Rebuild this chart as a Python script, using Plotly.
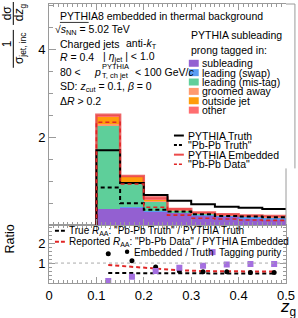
import plotly.graph_objects as go

# ---------------- data ----------------
bin_edges = [0.10, 0.15, 0.20, 0.25, 0.30, 0.35, 0.40, 0.45, 0.50]
bin_centers = [0.125, 0.175, 0.225, 0.275, 0.325, 0.375, 0.425, 0.475]

stack_names = ["subleading", "leading (swap)", "leading (mis-tag)",
               "groomed away", "outside jet", "other"]
stack_colors = ["#9361d2", "#5b9df2", "#5fcf9b", "#ff9a6e", "#ff9d0a", "#ff6e70"]
subleading   = [0.37, 0.40, 0.32, 0.29, 0.23, 0.20, 0.16, 0.14]
leading_swap = [0.00, 0.01, 0.01, 0.01, 0.02, 0.02, 0.03, 0.03]
leading_mis  = [1.91, 0.56, 0.22, 0.04, 0.02, 0.01, 0.01, 0.01]
groomed_away = [0.02, 0.02, 0.02, 0.01, 0.01, 0.01, 0.01, 0.01]
outside_jet  = [0.19, 0.11, 0.02, 0.00, 0.00, 0.00, 0.00, 0.01]
other        = [0.03, 0.02, 0.04, 0.02, 0.01, 0.01, 0.01, 0.01]
stack_values = [subleading, leading_swap, leading_mis, groomed_away, outside_jet, other]

pythia_truth    = [1.71, 0.96, 0.69, 0.56, 0.48, 0.42, 0.40, 0.37]
pbpb_truth      = [0.86, 0.50, 0.35, 0.31, 0.25, 0.21, 0.20, 0.18]
pythia_embedded = [2.52, 1.12, 0.63, 0.37, 0.29, 0.25, 0.22, 0.21]
pbpb_data       = [2.35, 0.94, 0.41, 0.23, 0.16, 0.14, 0.12, 0.11]

true_raa       = [0.50, 0.49, 0.48, 0.48, 0.48, 0.48, 0.48, 0.48]
reported_raa   = [0.90, 0.82, 0.72, 0.64, 0.60, 0.58, 0.58, 0.58]
embedded_truth = [1.47, 1.12, 0.80, 0.60, 0.57, 0.57, 0.53, 0.53]
tag_purity     = [0.10, 0.32, 0.60, 0.77, 0.87, 0.93, 0.95, 0.95]

# ---------------- geometry helpers (pixel -> paper) ----------------
W, H = 298, 318
L, R, T, B = 49, 10, 3, 35
PW, PH = W - L - R, H - T - B
split_px = 225
split = (H - B - split_px) / PH

def X(px):
    return (px - L) / PW

def Y(py):
    return (H - B - py) / PH

FONT = "Liberation Sans, Arial, Helvetica, sans-serif"
AX = "#9a9a9a"

def steps(values):
    xs = [bin_edges[0]] + bin_edges
    ys = [0] + list(values) + [values[-1]]
    return xs, ys

fig = go.Figure()

# stacked contributions
for name, col, vals in zip(stack_names, stack_colors, stack_values):
    fig.add_trace(go.Bar(x=bin_centers, y=vals, width=0.05, name=name,
                         marker=dict(color=col, line=dict(width=0)),
                         xaxis="x2", yaxis="y", showlegend=False))

def step_trace(vals, color, width, dash, opacity=1.0):
    xs, ys = steps(vals)
    return go.Scatter(x=xs, y=ys, mode="lines", line=dict(color=color, width=width,
                      dash=dash, shape="hv"), opacity=opacity,
                      xaxis="x2", yaxis="y", showlegend=False)

fig.add_trace(step_trace(pythia_embedded, "#ec4a4a", 2.5, "solid", 0.85))
fig.add_trace(step_trace(pythia_truth, "black", 2, "solid"))
fig.add_trace(step_trace(pbpb_truth, "black", 2, "4px,3px"))
fig.add_trace(step_trace(pbpb_data, "#e02525", 1.6, "4px,3px"))

# ratio panel
fig.add_trace(go.Scatter(x=bin_centers, y=true_raa, mode="lines",
                         line=dict(color="black", width=2, dash="4px,3px"),
                         xaxis="x", yaxis="y2", showlegend=False))
fig.add_trace(go.Scatter(x=bin_centers, y=reported_raa, mode="lines",
                         line=dict(color="#e02525", width=2, dash="4px,3px"),
                         xaxis="x", yaxis="y2", showlegend=False))
fig.add_trace(go.Scatter(x=bin_centers, y=embedded_truth, mode="markers",
                         marker=dict(color="black", size=5, symbol="circle"),
                         xaxis="x", yaxis="y2", showlegend=False))
fig.add_trace(go.Scatter(x=bin_centers, y=tag_purity, mode="markers",
                         marker=dict(color="#a46fe0", size=6, symbol="square"),
                         xaxis="x", yaxis="y2", showlegend=False))

shapes = []
ann = []

def text(px, py, s, size=10.5, anchor="left", angle=0, color="black"):
    ann.append(dict(x=X(px), y=Y(py), xref="paper", yref="paper", text=s,
                    showarrow=False, xanchor=anchor, yanchor="middle",
                    textangle=angle, font=dict(family=FONT, size=size, color=color)))

def line(x0, y0, x1, y1, color="black", width=1, dash="solid"):
    shapes.append(dict(type="line", xref="paper", yref="paper", x0=X(x0), y0=Y(y0),
                       x1=X(x1), y1=Y(y1), line=dict(color=color, width=width, dash=dash)))

# frame pieces of the upper panel / legend box
line(288, 3, 297, 3, color=AX, width=1)
line(297, 3, 297, 168, color=AX, width=1)
line(288, 168, 288, 225, color=AX, width=1)

# y=1 reference line in ratio
shapes.append(dict(type="line", xref="x", yref="y2", x0=0, x1=0.5, y0=1, y1=1,
                   line=dict(color="#aaaaaa", width=1, dash="dot")))

# top-left description
text(58, 15, "PYTHIA8 embedded in thermal background")
text(53, 29, "√<i>s</i><sub>NN</sub> = 5.02 TeV")
line(60, 21.5, 89, 21.5, color="black", width=0.8)
text(58, 43, "Charged jets")
text(125, 43, "anti-<i>k</i><sub>T</sub>")
text(58, 56, "<i>R</i> = 0.4")
text(101, 56, "| <i>η</i><sub>jet</sub> | < 1.0")
text(58, 71, "80 <")
text(92, 71, "<i>p</i>")
text(100, 65.5, "PYTHIA", size=7.5)
text(100, 75, "T, ch jet", size=7.5)
text(134, 71, "< 100 GeV/<i>c</i>")
text(58, 86, "SD: <i>z</i><sub>cut</sub> = 0.1, <i>β</i> = 0")
text(58, 100, "Δ<i>R</i> > 0.2")

# stack legend
text(190, 34, "PYTHIA subleading")
text(190, 49, "prong tagged in:")
for i, (name, col) in enumerate(zip(stack_names, stack_colors)):
    cy = 62.5 + i * 9.4
    shapes.append(dict(type="rect", xref="paper", yref="paper", x0=X(190), x1=X(200),
                       y0=Y(cy + 3.5), y1=Y(cy - 3.5), fillcolor=col, line=dict(width=0)))
    text(201, cy, name)

# line legend
leg_lines = [("PYTHIA Truth", "black", "solid", 2),
             ('"Pb-Pb Truth"', "black", "dash", 2),
             ("PYTHIA Embedded", "#ec4a4a", "solid", 2),
             ('"Pb-Pb Data"', "#e02525", "dash", 1.5)]
for i, (lab, col, dsh, w) in enumerate(leg_lines):
    cy = 135 + i * 9.6
    line(175, cy, 185, cy, color=col, width=w, dash="3px,2px" if dsh == "dash" else "solid")
    text(187, cy, lab)

# ratio legend
line(55, 230.5, 65, 230.5, color="black", width=2, dash="4px,2px")
text(67, 230.5, 'True <i>R</i><sub>AA</sub>: "Pb-Pb Truth" / PYTHIA Truth', size=10)
line(55, 241.5, 65, 241.5, color="#e02525", width=2, dash="4px,2px")
text(67, 241.5, 'Reported <i>R</i><sub>AA</sub>: "Pb-Pb Data" / PYTHIA Embedded', size=10)
shapes.append(dict(type="circle", xref="paper", yref="paper", x0=X(125.5), x1=X(130),
                   y0=Y(254), y1=Y(249.5), fillcolor="black", line=dict(width=0)))
text(133, 252, "Embedded / Truth", size=10)
shapes.append(dict(type="rect", xref="paper", yref="paper", x0=X(211), x1=X(217),
                   y0=Y(255), y1=Y(249), fillcolor="#a46fe0", line=dict(width=0)))
text(218, 252, "Tagging purity", size=10)

# axis titles
text(7, 43, "1", size=12, anchor="center", angle=-90)
text(20, 47, "σ<sub>jet, inc</sub>", size=12, anchor="center", angle=-90)
line(13, 29, 13, 67, width=1)
text(7, 12, "dσ", size=12, anchor="center", angle=-90)
text(20, 11, "d<i>z</i><sub>g</sub>", size=12, anchor="center", angle=-90)
line(13, 1, 13, 24, width=1)
text(10, 239, "Ratio", size=12.5, anchor="center", angle=-90)
text(290, 308, "<i>z</i><sub>g</sub>", size=17, anchor="center")

common_axis = dict(showline=True, linecolor=AX, linewidth=1,
                   ticks="inside", tickcolor=AX, showgrid=False, zeroline=False,
                   tickfont=dict(family=FONT, size=13, color="black"))

fig.update_layout(
    width=W, height=H, margin=dict(l=L, r=R, t=T, b=B, pad=0),
    paper_bgcolor="white", plot_bgcolor="white",
    barmode="stack", bargap=0, showlegend=False,
    xaxis=dict(domain=[0, 1], range=[0, 0.5], anchor="y2", dtick=0.1, tick0=0,
               ticklen=6, tickformat=".1~f", mirror="ticks",
               minor=dict(dtick=0.01, ticklen=3, ticks="inside", tickcolor=AX),
               **common_axis),
    xaxis2=dict(domain=[0, 1], range=[0, 0.5], anchor="y", matches="x", dtick=0.1,
                ticklen=6, showticklabels=False, mirror="ticks",
                minor=dict(dtick=0.01, ticklen=3, ticks="inside", tickcolor=AX),
                **common_axis),
    yaxis=dict(domain=[split, 1], range=[0, (split_px - T) / 44.0], anchor="x2",
               tickvals=[2, 4], ticklen=7, mirror=False,
               minor=dict(dtick=0.5, ticklen=4, ticks="inside", tickcolor=AX),
               **common_axis),
    yaxis2=dict(domain=[0, split], range=[0, (H - B - split_px) / 20.0], anchor="x",
                tickvals=[1, 2], ticklen=6, mirror="ticks",
                minor=dict(dtick=0.2, ticklen=3, ticks="inside", tickcolor=AX),
                **common_axis),
    shapes=shapes, annotations=ann,
)

fig.write_html("out.html", config={"displayModeBar": False},
               post_script="document.body.style.margin='0px';document.body.style.padding='0px';")
